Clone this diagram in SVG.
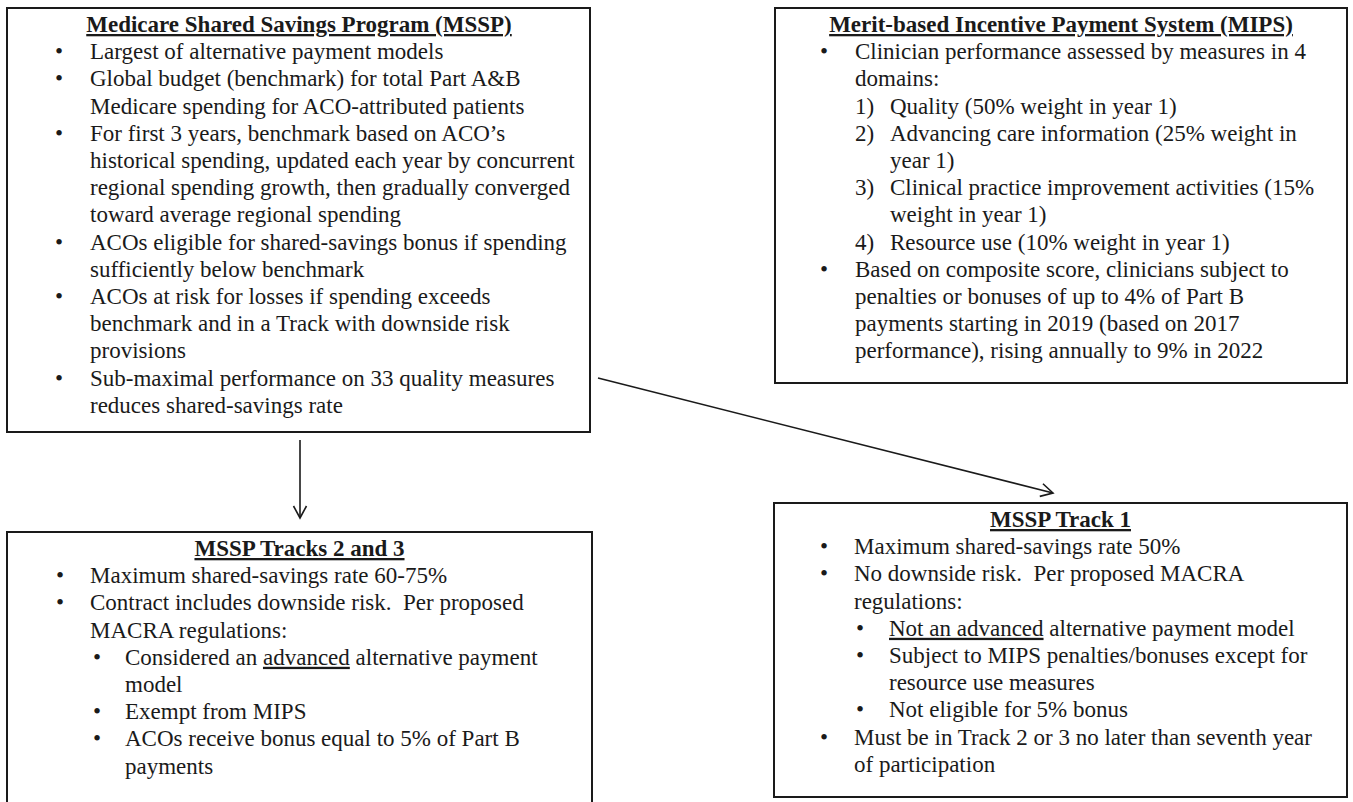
<svg xmlns="http://www.w3.org/2000/svg" width="1353" height="802" viewBox="0 0 1353 802">
<style>
  .box { fill: #ffffff; stroke: #1a1a1a; stroke-width: 2; }
  text { font-family: "Liberation Serif", "Times New Roman", serif; font-size: 23px; fill: #1a1a1a; white-space: pre; }
  .title { font-weight: bold; text-anchor: middle; text-decoration: underline; }
  .u { text-decoration: underline; }
  .conn { stroke: #1a1a1a; stroke-width: 1.6; fill: none; }
</style>
<defs>
  <marker id="arrow" markerUnits="userSpaceOnUse" markerWidth="16" markerHeight="16" viewBox="0 0 16 16" refX="14" refY="8" orient="auto">
    <path d="M2,1.5 L14,8 L2,14.5" fill="none" stroke="#1a1a1a" stroke-width="1.6"/>
  </marker>
</defs>
<rect width="1353" height="802" fill="#ffffff"/>

<g id="mssp">
  <rect class="box" x="7" y="8" width="583" height="424"/>
  <text class="title" x="299" y="32">Medicare Shared Savings Program (MSSP)</text>
  <text x="55" y="59.2">•</text><text x="90" y="59.2">Largest of alternative payment models</text>
  <text x="55" y="86.4">•</text><text x="90" y="86.4">Global budget (benchmark) for total Part A&amp;B</text>
  <text x="90" y="113.6">Medicare spending for ACO-attributed patients</text>
  <text x="55" y="140.8">•</text><text x="90" y="140.8">For first 3 years, benchmark based on ACO’s</text>
  <text x="90" y="168">historical spending, updated each year by concurrent</text>
  <text x="90" y="195.2">regional spending growth, then gradually converged</text>
  <text x="90" y="222.4">toward average regional spending</text>
  <text x="55" y="249.6">•</text><text x="90" y="249.6">ACOs eligible for shared-savings bonus if spending</text>
  <text x="90" y="276.8">sufficiently below benchmark</text>
  <text x="55" y="304">•</text><text x="90" y="304">ACOs at risk for losses if spending exceeds</text>
  <text x="90" y="331.2">benchmark and in a Track with downside risk</text>
  <text x="90" y="358.4">provisions</text>
  <text x="55" y="385.6">•</text><text x="90" y="385.6">Sub-maximal performance on 33 quality measures</text>
  <text x="90" y="412.8">reduces shared-savings rate</text>
</g>

<g id="mips">
  <rect class="box" x="775" y="8" width="572" height="375"/>
  <text class="title" x="1061" y="32">Merit-based Incentive Payment System (MIPS)</text>
  <text x="820" y="59.2">•</text><text x="855" y="59.2">Clinician performance assessed by measures in 4</text>
  <text x="855" y="86.4">domains:</text>
  <text x="855" y="113.6">1)</text><text x="890" y="113.6">Quality (50% weight in year 1)</text>
  <text x="855" y="140.8">2)</text><text x="890" y="140.8">Advancing care information (25% weight in</text>
  <text x="890" y="168">year 1)</text>
  <text x="855" y="195.2">3)</text><text x="890" y="195.2">Clinical practice improvement activities (15%</text>
  <text x="890" y="222.4">weight in year 1)</text>
  <text x="855" y="249.6">4)</text><text x="890" y="249.6">Resource use (10% weight in year 1)</text>
  <text x="820" y="276.8">•</text><text x="855" y="276.8">Based on composite score, clinicians subject to</text>
  <text x="855" y="304">penalties or bonuses of up to 4% of Part B</text>
  <text x="855" y="331.2">payments starting in 2019 (based on 2017</text>
  <text x="855" y="358.4">performance), rising annually to 9% in 2022</text>
</g>

<g id="tracks23">
  <rect class="box" x="7" y="532" width="585" height="290"/>
  <text class="title" x="299.5" y="556">MSSP Tracks 2 and 3</text>
  <text x="56" y="583.2">•</text><text x="90" y="583.2">Maximum shared-savings rate 60-75%</text>
  <text x="56" y="610.4">•</text><text x="90" y="610.4">Contract includes downside risk.  Per proposed</text>
  <text x="90" y="637.6">MACRA regulations:</text>
  <text x="93" y="664.8">•</text><text x="125" y="664.8">Considered an <tspan class="u">advanced</tspan> alternative payment</text>
  <text x="125" y="692">model</text>
  <text x="93" y="719.2">•</text><text x="125" y="719.2">Exempt from MIPS</text>
  <text x="93" y="746.4">•</text><text x="125" y="746.4">ACOs receive bonus equal to 5% of Part B</text>
  <text x="125" y="773.6">payments</text>
</g>

<g id="track1">
  <rect class="box" x="774" y="503" width="573" height="294"/>
  <text class="title" x="1060.5" y="527">MSSP Track 1</text>
  <text x="820" y="554.2">•</text><text x="854" y="554.2">Maximum shared-savings rate 50%</text>
  <text x="820" y="581.4">•</text><text x="854" y="581.4">No downside risk.  Per proposed MACRA</text>
  <text x="854" y="608.6">regulations:</text>
  <text x="856" y="635.8">•</text><text x="889" y="635.8"><tspan class="u">Not an advanced</tspan> alternative payment model</text>
  <text x="856" y="663">•</text><text x="889" y="663">Subject to MIPS penalties/bonuses except for</text>
  <text x="889" y="690.2">resource use measures</text>
  <text x="856" y="717.4">•</text><text x="889" y="717.4">Not eligible for 5% bonus</text>
  <text x="820" y="744.6">•</text><text x="854" y="744.6">Must be in Track 2 or 3 no later than seventh year</text>
  <text x="854" y="771.8">of participation</text>
</g>

<g id="connectors">
  <line class="conn" x1="300" y1="440" x2="300" y2="518" marker-end="url(#arrow)"/>
  <line class="conn" x1="598" y1="378" x2="1053" y2="493" marker-end="url(#arrow)"/>
</g>
</svg>
